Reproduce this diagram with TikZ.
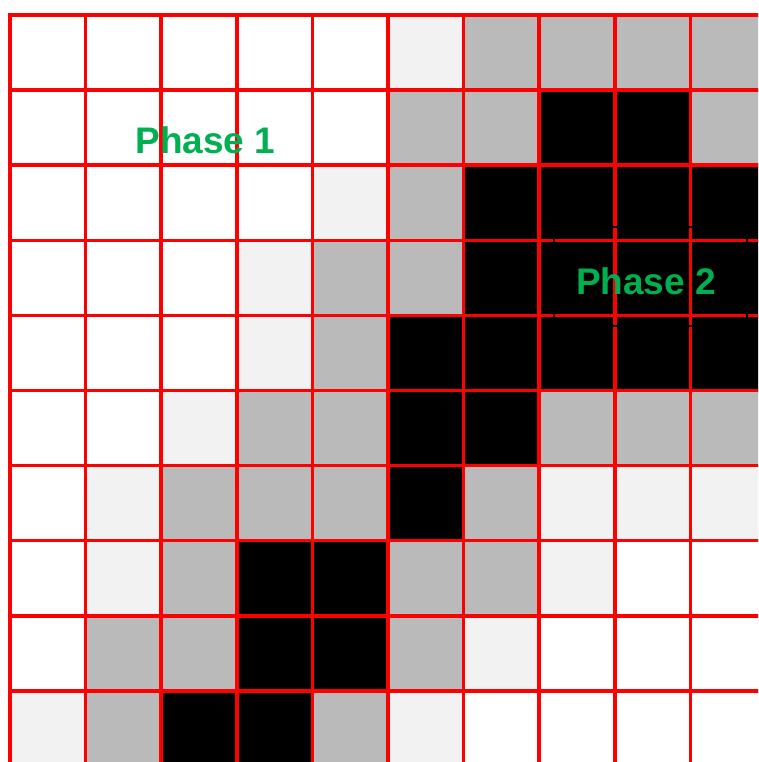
\documentclass[tikz,border=0pt]{standalone}
\usepackage{fontspec}
\setmainfont{Liberation Sans}
\usetikzlibrary{positioning}
\definecolor{gridred}{RGB}{255,0,0}
\definecolor{cellpale}{RGB}{242,242,242}
\definecolor{cellgrey}{RGB}{186,186,186}
\definecolor{phasegreen}{RGB}{0,176,80}
\colorlet{cell0}{white}
\colorlet{cell1}{cellpale}
\colorlet{cell2}{cellgrey}
\colorlet{cell3}{black}

\begin{document}
\begin{tikzpicture}[x=1pt, y=-1pt,
      gridline/.style={draw=gridred, line width=3.5pt, line cap=rect},
      phase/.style={text=phasegreen, font=\fontsize{37}{41}\selectfont\bfseries, inner sep=0pt}
    ]
      \useasboundingbox (0,0) rectangle (758,762);
      \clip (0,0) rectangle (758,762);

      % cells, row by row: 0 white, 1 pale, 2 grey, 3 black
      \foreach \vals [count=\row from 0] in {
          {0,0,0,0,0,1,2,2,2,2},
          {0,0,0,0,0,2,2,3,3,2},
          {0,0,0,0,1,2,3,3,3,3},
          {0,0,0,1,2,2,3,3,3,3},
          {0,0,0,1,2,3,3,3,3,3},
          {0,0,1,2,2,3,3,2,2,2},
          {0,1,2,2,2,3,2,1,1,1},
          {0,1,2,3,3,2,2,1,0,0},
          {0,2,2,3,3,2,1,0,0,0},
          {1,2,3,3,2,1,0,0,0,0}} {
        \foreach \v [count=\col from 0] in \vals {
          \fill[cell\v] ({10+75.6*\col},{15+75.1*\row}) rectangle ++(75.6,75.1);
        }
      }

      % red grid
      \foreach \k in {0,...,10} {
        \draw[gridline] ({10+75.6*\k},15) -- ++(0,760);
        \draw[gridline] (10,{15+75.1*\k}) -- ++(760,0);
      }

      \draw[black, line width=1.5pt] (554,227) rectangle (747,326);

      \node[phase] (phase1) at (205.5,140) {Phase 1};
      \node[phase] (phase2) at (646,281.5) {Phase 2};
    \end{tikzpicture}
\end{document}
